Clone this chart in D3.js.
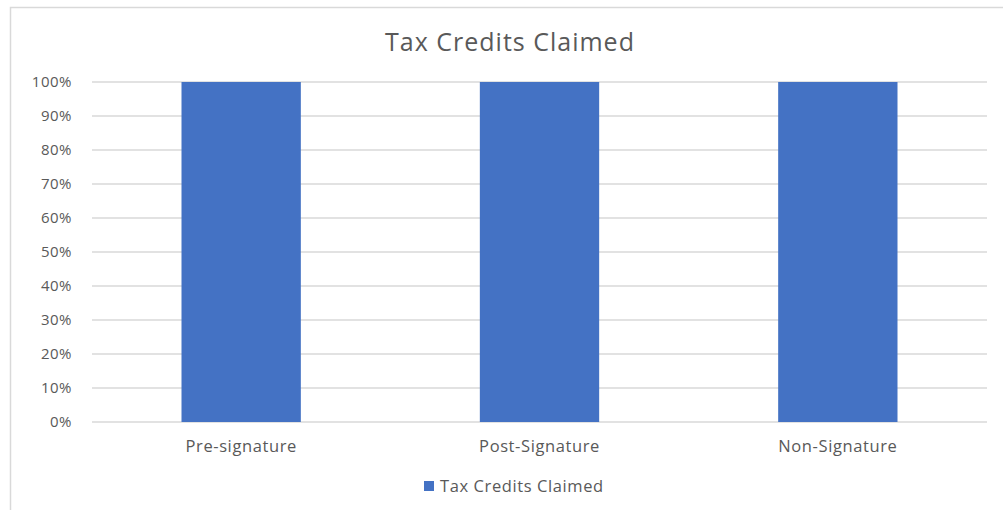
<!DOCTYPE html>
<html>
<head>
<meta charset="utf-8">
<script src="https://cdn.jsdelivr.net/npm/d3@7"></script>
<style>
  body { margin: 0; background: #fff; }
  text { font-family: "Open Sans", "Noto Sans", sans-serif; fill: #595959; }
</style>
</head>
<body>
<div id="chart"></div>
<script>
// chart data
var categories = ["Pre-signature", "Post-Signature", "Non-Signature"];
var claimed = [1.0, 1.0, 1.0];
var yTicks = [0, 0.1, 0.2, 0.3, 0.4, 0.5, 0.6, 0.7, 0.8, 0.9, 1.0];
var seriesName = "Tax Credits Claimed";
var chartTitle = "Tax Credits Claimed";

var width = 1003, height = 510;
var margin = {top: 82, right: 16, bottom: 88, left: 92};

var svg = d3.select("#chart")
  .append("svg")
    .attr("width", width)
    .attr("height", height);

// outer chart frame (cut off on right/bottom in the original)
svg.append("rect")
  .attr("x", 10.5)
  .attr("y", 7.5)
  .attr("width", 1003)
  .attr("height", 520)
  .attr("fill", "none")
  .attr("stroke", "#d9d9d9")
  .attr("stroke-width", 1.5);

var x = d3.scaleBand()
  .domain(categories)
  .range([margin.left, width - margin.right])
  .paddingInner(0.6)
  .paddingOuter(0.3);

var y = d3.scaleLinear()
  .domain([0, 1])
  .range([height - margin.bottom, margin.top]);

// gridlines
svg.append("g")
  .selectAll("line")
  .data(yTicks)
  .enter()
  .append("line")
    .attr("x1", margin.left)
    .attr("x2", width - margin.right)
    .attr("y1", function(d){ return y(d); })
    .attr("y2", function(d){ return y(d); })
    .attr("stroke", "#d9d9d9")
    .attr("stroke-width", 1.3);

// y axis labels
var yAxis = d3.axisLeft(y)
  .tickValues(yTicks)
  .tickFormat(d3.format(".0%"))
  .tickSize(0)
  .tickPadding(20);

var yg = svg.append("g")
  .attr("transform", "translate(" + margin.left + ",0)")
  .call(yAxis);
yg.select(".domain").remove();
yg.selectAll("text")
  .style("font-size", "15px")
  .style("letter-spacing", "0.5px")
  .attr("fill", "#595959");

// bars
svg.append("g")
  .selectAll("rect")
  .data(claimed)
  .enter()
  .append("rect")
    .attr("x", function(d, i){ return x(categories[i]); })
    .attr("y", function(d){ return y(d); })
    .attr("width", x.bandwidth())
    .attr("height", function(d){ return y(0) - y(d); })
    .attr("fill", "#4472c4");

// x axis labels
var xAxis = d3.axisBottom(x).tickSize(0).tickPadding(18);
var xg = svg.append("g")
  .attr("transform", "translate(0," + y(0) + ")")
  .call(xAxis);
xg.select(".domain").remove();
xg.selectAll("text")
  .style("font-size", "16.5px")
  .style("letter-spacing", "0.6px")
  .attr("fill", "#595959");

// title
svg.append("text")
  .attr("x", 510)
  .attr("y", 51)
  .attr("text-anchor", "middle")
  .style("font-size", "25px")
  .style("letter-spacing", "1px")
  .text(chartTitle);

// legend
var legend = svg.append("g").attr("transform", "translate(424,486)");
legend.append("rect")
  .attr("x", 0)
  .attr("y", -5)
  .attr("width", 10)
  .attr("height", 10)
  .attr("fill", "#4472c4");
legend.append("text")
  .attr("x", 16)
  .attr("y", 6)
  .style("font-size", "16.5px")
  .style("letter-spacing", "0.6px")
  .text(seriesName);
</script>
</body>
</html>
